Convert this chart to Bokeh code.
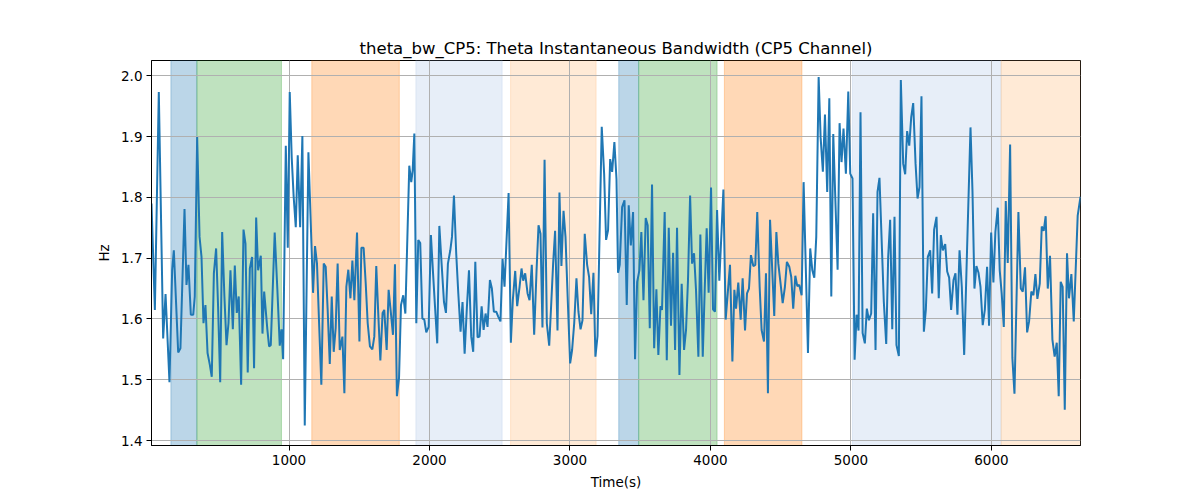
from bokeh.plotting import figure
from bokeh.models import Range1d, FixedTicker, ColumnDataSource, PrintfTickFormatter
from bokeh.embed import file_html
from bokeh.resources import INLINE

times = [21, 45, 73, 104, 121, 149, 168, 180, 211, 227, 256, 270, 284, 301, 318, 329, 346, 363, 377, 391,
         405, 420, 436, 450, 465, 481, 495, 510, 524, 540, 555, 569, 583, 600, 614, 628, 642, 659, 676, 690,
         706, 721, 737, 751, 766, 780, 799, 811, 823, 846, 858, 870, 898, 917, 934, 946, 958, 977, 991, 1005,
         1019, 1033, 1048, 1062, 1079, 1095, 1112, 1138, 1171, 1185, 1199, 1214, 1230, 1247, 1261, 1275, 1290, 1304, 1318, 1332,
         1346, 1361, 1380, 1394, 1408, 1422, 1437, 1451, 1465, 1484, 1501, 1515, 1531, 1546, 1560, 1576, 1593, 1607, 1621, 1636,
         1650, 1666, 1678, 1695, 1709, 1723, 1740, 1754, 1768, 1783, 1797, 1813, 1828, 1856, 1870, 1880, 1892, 1906, 1920, 1934,
         1949, 1963, 1977, 1994, 2010, 2024, 2039, 2055, 2070, 2086, 2103, 2117, 2131, 2148, 2160, 2174, 2190, 2205, 2221, 2235,
         2250, 2266, 2281, 2297, 2311, 2326, 2342, 2356, 2371, 2385, 2399, 2413, 2430, 2444, 2458, 2475, 2489, 2505, 2520, 2534,
         2563, 2579, 2593, 2610, 2624, 2641, 2655, 2667, 2681, 2698, 2712, 2728, 2745, 2762, 2776, 2790, 2804, 2819, 2835, 2852,
         2866, 2880, 2894, 2911, 2925, 2939, 2954, 2968, 2985, 3001, 3015, 3030, 3046, 3060, 3075, 3089, 3105, 3122, 3136, 3151,
         3167, 3181, 3196, 3226, 3243, 3257, 3271, 3286, 3300, 3316, 3331, 3342, 3354, 3371, 3388, 3404, 3418, 3433, 3449, 3463,
         3478, 3494, 3508, 3523, 3539, 3553, 3568, 3584, 3599, 3615, 3629, 3644, 3655, 3674, 3689, 3703, 3719, 3734, 3748, 3762,
         3779, 3795, 3812, 3826, 3840, 3855, 3869, 3883, 3897, 3914, 3928, 3945, 3959, 3973, 3987, 4004, 4018, 4032, 4047, 4063,
         4092, 4108, 4139, 4156, 4170, 4182, 4198, 4215, 4229, 4246, 4260, 4274, 4288, 4305, 4319, 4333, 4350, 4364, 4381, 4395,
         4409, 4424, 4454, 4469, 4483, 4499, 4514, 4530, 4544, 4561, 4575, 4589, 4604, 4618, 4632, 4649, 4663, 4694, 4710, 4725,
         4739, 4753, 4770, 4784, 4800, 4815, 4831, 4846, 4860, 4874, 4905, 4919, 4933, 4947, 4964, 4981, 4995, 5011, 5026, 5040,
         5054, 5068, 5083, 5099, 5113, 5128, 5144, 5158, 5175, 5189, 5203, 5234, 5251, 5265, 5279, 5294, 5310, 5324, 5341, 5355,
         5372, 5386, 5400, 5415, 5429, 5443, 5460, 5474, 5488, 5502, 5519, 5533, 5547, 5564, 5578, 5592, 5609, 5625, 5640, 5654,
         5671, 5685, 5699, 5713, 5730, 5744, 5758, 5773, 5789, 5806, 5826, 5851, 5865, 5879, 5893, 5908, 5922, 5938, 5953, 5969,
         5983, 5998, 6014, 6028, 6045, 6059, 6073, 6088, 6102, 6116, 6133, 6149, 6164, 6192, 6209, 6223, 6239, 6254, 6268, 6284,
         6299, 6313, 6327, 6344, 6358, 6372, 6386, 6401, 6417, 6434, 6450, 6465, 6479, 6493, 6507, 6522, 6538, 6552, 6569, 6586,
         6614, 6634]

bandwidth_hz = [1.790, 1.615, 1.973, 1.568, 1.641, 1.496, 1.680, 1.713, 1.545, 1.552, 1.781, 1.656, 1.689, 1.607, 1.607, 1.637, 1.899, 1.735, 1.702, 1.593,
                1.623, 1.544, 1.525, 1.505, 1.675, 1.716, 1.620, 1.496, 1.743, 1.637, 1.557, 1.593, 1.680, 1.583, 1.688, 1.610, 1.637, 1.492, 1.747, 1.724,
                1.512, 1.683, 1.702, 1.519, 1.767, 1.680, 1.704, 1.576, 1.645, 1.582, 1.555, 1.557, 1.742, 1.648, 1.556, 1.583, 1.534, 1.885, 1.717, 1.973,
                1.866, 1.801, 1.751, 1.869, 1.751, 1.901, 1.425, 1.874, 1.643, 1.720, 1.691, 1.593, 1.492, 1.691, 1.686, 1.615, 1.526, 1.637, 1.546, 1.585,
                1.691, 1.549, 1.571, 1.478, 1.653, 1.681, 1.634, 1.696, 1.631, 1.742, 1.563, 1.717, 1.717, 1.658, 1.593, 1.555, 1.550, 1.571, 1.687, 1.604,
                1.532, 1.610, 1.615, 1.549, 1.648, 1.615, 1.574, 1.690, 1.473, 1.503, 1.623, 1.639, 1.609, 1.852, 1.825, 1.844, 1.905, 1.593, 1.730, 1.725,
                1.601, 1.599, 1.578, 1.587, 1.738, 1.680, 1.621, 1.560, 1.753, 1.691, 1.628, 1.610, 1.691, 1.713, 1.735, 1.803, 1.708, 1.642, 1.579, 1.628,
                1.543, 1.619, 1.680, 1.571, 1.546, 1.694, 1.570, 1.571, 1.621, 1.582, 1.609, 1.587, 1.664, 1.650, 1.612, 1.612, 1.604, 1.596, 1.699, 1.653,
                1.807, 1.561, 1.631, 1.679, 1.621, 1.653, 1.683, 1.663, 1.675, 1.642, 1.631, 1.689, 1.574, 1.680, 1.754, 1.740, 1.586, 1.862, 1.593, 1.556,
                1.623, 1.691, 1.745, 1.581, 1.808, 1.687, 1.778, 1.735, 1.626, 1.527, 1.549, 1.593, 1.667, 1.612, 1.583, 1.598, 1.740, 1.689, 1.669, 1.608,
                1.676, 1.538, 1.572, 1.916, 1.839, 1.730, 1.746, 1.863, 1.842, 1.891, 1.830, 1.676, 1.689, 1.784, 1.795, 1.623, 1.787, 1.721, 1.776, 1.534,
                1.661, 1.680, 1.743, 1.631, 1.766, 1.754, 1.585, 1.821, 1.552, 1.649, 1.541, 1.621, 1.615, 1.776, 1.532, 1.750, 1.589, 1.709, 1.549, 1.750,
                1.508, 1.658, 1.549, 1.582, 1.664, 1.803, 1.691, 1.708, 1.648, 1.538, 1.739, 1.538, 1.648, 1.749, 1.643, 1.816, 1.616, 1.612, 1.779, 1.663,
                1.813, 1.599, 1.689, 1.530, 1.648, 1.617, 1.660, 1.599, 1.667, 1.581, 1.642, 1.650, 1.705, 1.687, 1.689, 1.776, 1.653, 1.582, 1.563, 1.675,
                1.478, 1.763, 1.605, 1.743, 1.691, 1.658, 1.626, 1.653, 1.694, 1.686, 1.669, 1.617, 1.671, 1.654, 1.656, 1.639, 1.825, 1.544, 1.716, 1.680,
                1.668, 1.735, 1.998, 1.899, 1.842, 1.936, 1.809, 1.963, 1.637, 1.904, 1.681, 1.922, 1.858, 1.913, 1.839, 1.974, 1.839, 1.831, 1.533, 1.607,
                1.581, 1.940, 1.577, 1.560, 1.617, 1.598, 1.609, 1.774, 1.549, 1.809, 1.832, 1.628, 1.559, 1.702, 1.763, 1.583, 1.768, 1.557, 1.539, 1.993,
                1.855, 1.838, 1.909, 1.885, 1.932, 1.955, 1.855, 1.798, 1.817, 1.966, 1.579, 1.615, 1.702, 1.713, 1.642, 1.747, 1.768, 1.634, 1.738, 1.713,
                1.723, 1.678, 1.668, 1.615, 1.664, 1.675, 1.607, 1.713, 1.653, 1.541, 1.710, 1.915, 1.811, 1.650, 1.687, 1.676, 1.653, 1.590, 1.615, 1.686,
                1.589, 1.742, 1.660, 1.743, 1.783, 1.680, 1.642, 1.587, 1.794, 1.692, 1.887, 1.536, 1.477, 1.776, 1.650, 1.645, 1.685, 1.578, 1.596, 1.645,
                1.639, 1.674, 1.633, 1.658, 1.752, 1.745, 1.769, 1.650, 1.704, 1.566, 1.538, 1.561, 1.473, 1.661, 1.653, 1.451, 1.708, 1.634, 1.674, 1.596,
                1.770, 1.801]

span_starts = [159, 344, 1162, 1903, 2577, 3347, 3489, 4099, 5011, 6069]
span_ends = [344, 946, 1785, 2517, 3186, 3489, 4047, 4651, 6069, 6700]
span_colors = ["#1f77b4", "#2ca02c", "#ff7f0e", "#aec7e8", "#ffbb78",
               "#1f77b4", "#2ca02c", "#ff7f0e", "#aec7e8", "#ffbb78"]

y_ticks = [1.4, 1.5, 1.6, 1.7, 1.8, 1.9, 2.0]
x_ticks = [1000, 2000, 3000, 4000, 5000, 6000]

FONT = "DejaVu Sans"

p = figure(width=1192, height=492, output_backend="svg", toolbar_location=None,
           x_range=Range1d(times[0], times[-1]), y_range=Range1d(1.392, 2.025),
           min_border_left=151, min_border_right=112, min_border_top=60, min_border_bottom=47,
           title="theta_bw_CP5: Theta Instantaneous Bandwidth (CP5 Channel)")
p.background_fill_color = "white"
p.border_fill_color = "white"
p.outline_line_color = "black"
p.outline_line_width = 1
p.outline_line_alpha = 1

p.title.align = "center"
p.title.text_font = FONT
p.title.text_font_size = "16.5px"
p.title.text_font_style = "normal"
p.title.text_color = "black"
p.title.standoff = 6

span_src = ColumnDataSource(dict(left=span_starts, right=span_ends, color=span_colors))
p.quad(left="left", right="right", bottom=1.0, top=2.5, fill_color="color", fill_alpha=0.3,
       line_color="color", line_alpha=0.3, line_width=1, source=span_src, level="underlay")

p.line(times, bandwidth_hz, line_color="#1f77b4", line_width=2)

for ax in (p.xaxis[0], p.yaxis[0]):
    ax.major_tick_out = 5
    ax.major_tick_in = 0
    ax.minor_tick_out = 0
    ax.minor_tick_in = 0
    ax.major_tick_line_color = "black"
    ax.axis_line_color = "black"
    ax.major_label_text_font = FONT
    ax.major_label_text_font_size = "13.5px"
    ax.major_label_text_color = "black"
    ax.axis_label_text_font = FONT
    ax.axis_label_text_font_size = "13.5px"
    ax.axis_label_text_font_style = "normal"
    ax.axis_label_text_color = "black"
    ax.major_label_standoff = 4
    ax.axis_label_standoff = 6

p.xaxis[0].ticker = FixedTicker(ticks=x_ticks)
p.yaxis[0].ticker = FixedTicker(ticks=y_ticks)
p.yaxis[0].formatter = PrintfTickFormatter(format="%.1f")
p.xaxis[0].axis_label = "Time(s)"
p.yaxis[0].axis_label = "Hz"

p.xgrid.ticker = FixedTicker(ticks=x_ticks)
p.ygrid.ticker = FixedTicker(ticks=y_ticks)
for g in (p.xgrid[0], p.ygrid[0]):
    g.grid_line_color = "#b0b0b0"
    g.grid_line_width = 1
    g.grid_line_alpha = 1

open("out.html", "w").write(file_html(p, INLINE))
